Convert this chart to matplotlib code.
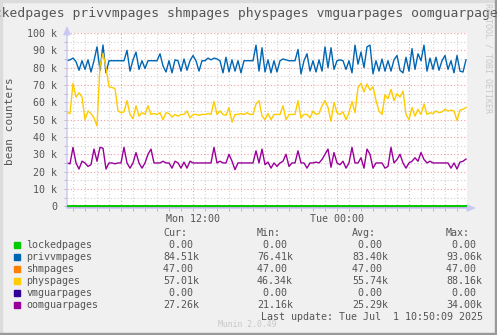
import pandas as pd
import matplotlib
matplotlib.use("Agg")
import matplotlib.pyplot as plt
import matplotlib.dates as mdates
from matplotlib.ticker import MultipleLocator, FuncFormatter
from matplotlib.patches import Rectangle

# beancounter samples, thousands of pages, one every 15 minutes
privvmpages = [
    84.0, 84.5, 85.5, 83.5, 78.5, 84.0, 79.0, 84.5, 77.5, 84.0,
    92.0, 78.5, 93.06, 77.0, 84.0, 84.0, 84.0, 84.0, 84.0, 84.0,
    90.0, 78.0, 84.5, 89.0, 79.0, 84.0, 79.5, 84.0, 84.0, 84.0,
    84.0, 88.0, 81.0, 77.5, 84.0, 77.0, 84.5, 84.0, 78.0, 85.0,
    78.5, 84.0, 87.0, 84.0, 78.0, 84.0, 84.0, 85.5, 84.5, 85.5,
    85.0, 84.0, 77.0, 86.0, 77.5, 84.5, 78.0, 84.0, 77.0, 84.0,
    84.0, 84.0, 84.0, 93.0, 78.0, 91.5, 77.5, 84.5, 77.0, 84.0,
    77.5, 84.0, 85.0, 84.5, 84.0, 84.0, 84.0, 90.5, 76.41, 84.0,
    88.0, 78.0, 84.0, 77.5, 84.5, 78.0, 92.0, 80.0, 91.5, 79.0,
    84.0, 84.5, 84.0, 79.0, 84.0, 77.0, 93.0, 82.0, 89.0, 80.0,
    92.0, 93.0, 76.5, 84.0, 78.0, 85.0, 78.0, 84.0, 78.0, 84.5,
    87.0, 78.5, 77.0, 86.0, 78.0, 91.0, 79.0, 88.0, 84.0, 93.0,
    78.0, 85.5, 79.0, 86.0, 78.5, 84.0, 87.0, 79.0, 84.0, 77.0,
    87.0, 78.0, 77.5, 84.51,
]
physpages = [
    54.0, 53.5, 71.0, 63.0, 65.5, 63.0, 50.0, 55.0, 53.5, 51.0,
    46.34, 81.0, 88.16, 80.0, 69.0, 68.5, 68.0, 55.0, 54.0, 54.5,
    61.0, 53.0, 50.5, 58.0, 52.0, 54.0, 53.0, 58.0, 53.0, 53.5,
    53.0, 54.0, 50.0, 54.0, 53.5, 51.5, 53.0, 52.0, 53.0, 53.0,
    55.0, 51.0, 53.0, 53.0, 52.5, 53.0, 53.0, 53.5, 53.0, 60.5,
    53.0, 55.0, 53.0, 52.5, 57.0, 48.5, 53.0, 53.0, 53.5, 53.0,
    54.0, 53.0, 53.0, 59.0, 61.0, 52.0, 50.0, 53.5, 50.0, 53.0,
    53.0, 53.0, 58.0, 50.0, 53.0, 53.0, 53.0, 61.0, 51.0, 53.0,
    53.0, 51.0, 55.0, 53.0, 53.5, 58.0, 61.0, 57.0, 49.0, 60.0,
    54.0, 53.0, 54.5, 50.0, 54.0, 60.5, 54.0, 68.5, 71.0, 66.0,
    70.5, 67.0, 69.0, 61.0, 55.0, 53.0, 64.5, 62.0, 67.5, 61.0,
    65.0, 63.0, 66.5, 53.0, 50.0, 57.0, 52.0, 56.0, 53.0, 59.0,
    53.0, 54.0, 53.5, 55.0, 54.0, 54.5, 56.0, 55.0, 55.5, 55.0,
    49.5, 55.5, 56.0, 57.01,
]
oomguarpages = [
    25.0, 24.5, 34.0, 25.0, 21.5, 26.0, 25.0, 23.0, 24.0, 33.0,
    26.0, 34.0, 33.5, 21.5, 25.0, 25.0, 24.5, 25.0, 25.0, 34.0,
    25.0, 22.0, 25.0, 31.0, 25.0, 22.0, 25.0, 30.0, 33.0, 25.0,
    25.0, 25.0, 26.0, 25.0, 25.0, 22.0, 26.0, 25.0, 22.0, 25.5,
    22.0, 26.0, 25.0, 25.0, 25.0, 25.0, 25.0, 25.0, 25.0, 34.0,
    25.0, 26.0, 25.0, 25.0, 30.0, 26.0, 21.16, 25.0, 25.0, 25.0,
    25.0, 25.0, 25.0, 32.0, 25.0, 33.0, 24.0, 25.5, 22.0, 25.0,
    23.0, 25.0, 26.0, 30.0, 23.0, 25.0, 25.0, 32.0, 25.0, 25.0,
    22.0, 25.0, 25.0, 25.5, 25.0, 27.0, 30.0, 33.0, 22.5, 31.0,
    25.0, 24.0, 26.0, 22.0, 25.0, 34.0, 25.0, 25.0, 28.0, 22.0,
    33.0, 30.0, 22.0, 25.0, 25.0, 25.0, 22.0, 23.0, 34.0, 25.0,
    27.0, 30.0, 25.0, 22.0, 25.0, 26.0, 28.0, 26.0, 31.0, 27.0,
    25.0, 26.0, 25.0, 25.0, 25.0, 25.0, 25.0, 25.0, 22.0, 25.0,
    21.5, 25.5, 26.0, 27.26,
]
lockedpages = [0.0] * len(privvmpages)
shmpages = [0.047] * len(privvmpages)
vmguarpages = [0.0] * len(privvmpages)

names = ["lockedpages", "privvmpages", "shmpages", "physpages", "vmguarpages", "oomguarpages"]
colors = ["#00CC00", "#0066B3", "#FF8000", "#FFCC00", "#330099", "#990099"]
cur = [0, 84510, 47, 57010, 0, 27260]
vmin = [0, 76410, 47, 46340, 0, 21160]
avg = [0, 83400, 47, 55740, 0, 25290]
vmax = [0, 93060, 47, 88160, 0, 34000]

W, H = 497, 335
MONO = "DejaVu Sans Mono"
TXT = "#555555"

times = pd.date_range(end="2025-07-01 10:45", periods=len(privvmpages), freq="15min")
start = times[0]
end = start + pd.Timedelta(minutes=5 * 400)


def fx(x):
    return x / W


def fy(y):
    return 1 - y / H


fig = plt.figure(figsize=(W / 100, H / 100), dpi=100, facecolor="#F0F0F0")

# frame around the whole image
fig.patches.append(Rectangle((0, 0), fx(2), 1, transform=fig.transFigure, color="#DCDCDC", zorder=0))
fig.patches.append(Rectangle((0, fy(2)), 1, 2 / H, transform=fig.transFigure, color="#DCDCDC", zorder=0))
fig.patches.append(Rectangle((fx(W - 2), 0), fx(2), 1, transform=fig.transFigure, color="#9A9A9A", zorder=0))
fig.patches.append(Rectangle((0, 0), 1, 2 / H, transform=fig.transFigure, color="#9A9A9A", zorder=0))

ax = fig.add_axes([fx(67), fy(208), 400 / W, 175 / H])
ax.set_facecolor("white")
for s in ax.spines.values():
    s.set_visible(False)

series = [lockedpages, privvmpages, shmpages, physpages, vmguarpages, oomguarpages]
widths = [1.4, 1.0, 1.0, 1.0, 1.0, 1.0]
zorders = [5, 3, 2, 3, 1, 3]
for vals, c, lw, z in zip(series, colors, widths, zorders):
    ax.plot(times, vals, color=c, lw=lw, zorder=z)

ax.set_xlim(start, end)
ax.set_ylim(-1, 100)

# grid: red every 10 k / 6 h, grey every 5 k / 1 h
ax.yaxis.set_major_locator(MultipleLocator(10))
ax.yaxis.set_minor_locator(MultipleLocator(5))
ax.xaxis.set_major_locator(mdates.HourLocator(byhour=[0, 6, 12, 18]))
ax.xaxis.set_minor_locator(mdates.HourLocator(interval=1))
ax.grid(which="minor", color="#D0D0D0", linestyle=(0, (1, 2)), lw=0.8, zorder=0)
ax.grid(which="major", color="#F0A0A0", linestyle=(0, (1, 2)), lw=0.8, zorder=0)
ax.set_axisbelow(True)


def xlabel(x, pos):
    d = mdates.num2date(x)
    return d.strftime("%a %H:%M") if d.hour in (0, 12) else ""


def ylabel(v, pos):
    return "0" if v == 0 else "%d k" % v


ax.xaxis.set_major_formatter(FuncFormatter(xlabel))
ax.yaxis.set_major_formatter(FuncFormatter(ylabel))
ax.tick_params(which="both", length=2, width=0.6, color="#B0B0B0",
               labelsize=7.2, labelcolor=TXT)
ax.tick_params(axis="y", pad=5)
ax.tick_params(axis="x", pad=2)
for lab in ax.get_xticklabels() + ax.get_yticklabels():
    lab.set_family(MONO)

# axes with arrow heads
ax.annotate("", xy=(1.022, 0.0), xytext=(0, 0.0), xycoords="axes fraction",
            arrowprops=dict(arrowstyle="-|>,head_length=0.5,head_width=0.22",
                            color="#C8C8F4", lw=1.0, shrinkA=0, shrinkB=0))
ax.annotate("", xy=(0, 1.04), xytext=(0, 0), xycoords="axes fraction",
            arrowprops=dict(arrowstyle="-|>,head_length=0.5,head_width=0.22",
                            color="#C8C8F4", lw=1.0, shrinkA=0, shrinkB=0))
ax.axhline(-0.6, color="#9A88D8", lw=1.0, zorder=1, clip_on=False)

fig.text(fx(10), fy(121), "bean counters", rotation=90, family=MONO,
         fontsize=8, color=TXT, ha="center", va="center")

fig.text(fx(-22), fy(13.5), "lockedpages privvmpages shmpages physpages vmguarpages oomguarpages",
         family=MONO, fontsize=9.4, color=TXT, ha="left", va="center")
fig.text(fx(488), fy(3), "RRDTOOL / TOBI OETIKER", rotation=270, family=MONO,
         fontsize=6, color="#C8C8C8", ha="center", va="top")


def fmt(v):
    if v >= 1000:
        return "%5.2fk" % (v / 1000)
    return "%5.2f " % v


cols = [163, 257, 352, 446]
for x, head in zip(cols, ["Cur:", "Min:", "Avg:", "Max:"]):
    fig.text(fx(x), fy(233), head, family=MONO, fontsize=7.2, color=TXT, va="center")

for i, name in enumerate(names):
    y = 245 + 12 * i
    fig.patches.append(Rectangle((fx(14), fy(y + 3)), 6 / W, 6 / H,
                                 transform=fig.transFigure, color=colors[i]))
    fig.text(fx(26.5), fy(y), name, family=MONO, fontsize=7.2, color=TXT, va="center")
    for x, stat in zip(cols, [cur, vmin, avg, vmax]):
        fig.text(fx(x), fy(y), fmt(stat[i]), family=MONO, fontsize=7.2, color=TXT, va="center")

fig.text(fx(483), fy(317), "Last update: Tue Jul  1 10:50:09 2025", family=MONO,
         fontsize=7.2, color=TXT, ha="right", va="center")
fig.text(fx(247), fy(324.5), "Munin 2.0.49", family=MONO, fontsize=5.9,
         color="#C8C8C8", ha="center", va="center")

fig.savefig("out.png", dpi=100, facecolor=fig.get_facecolor())
